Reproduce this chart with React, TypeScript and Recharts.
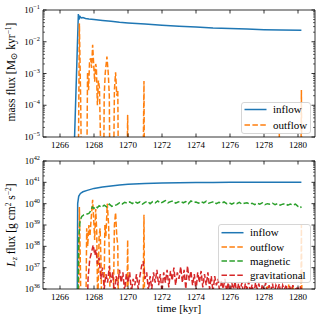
import React from 'react';
import { LineChart, Line, XAxis, YAxis, Legend } from 'recharts';

const FONT = '"Liberation Serif", "DejaVu Serif", "Times New Roman", serif';
const BLUE = '#1f77b4';
const ORANGE = '#ff7f0e';
const GREEN = '#2ca02c';
const RED = '#d62728';
const DASH = '5.5 2.4';

// ---------- tick labels ----------
const timeTicks = [1266, 1268, 1270, 1272, 1274, 1276, 1278, 1280];
const massDecades = [1e-5, 1e-4, 1e-3, 1e-2, 1e-1];
const lzDecades = [1e36, 1e37, 1e38, 1e39, 1e40, 1e41, 1e42];

// ---------- top panel: mass flux [Msun/kyr] ----------
const massInflowT = [1266.8, 1267.08, 1267.12, 1267.18, 1267.25, 1267.35, 1267.5, 1267.7, 1268, 1268.5, 1269, 1269.5, 1270, 1271, 1272, 1273, 1274, 1275, 1276, 1277, 1278, 1279, 1280.2];
const massInflowV = [1e-6, 0.075, 0.05, 0.062, 0.056, 0.058, 0.054, 0.052, 0.05, 0.047, 0.044, 0.041, 0.039, 0.036, 0.033, 0.031, 0.029, 0.027, 0.026, 0.025, 0.024, 0.0235, 0.023];

const massOutflowT = [1266.95, 1267.05, 1267.14, 1267.22, 1267.3, 1267.55, 1267.62, 1267.68, 1267.74, 1267.8, 1267.86, 1267.92, 1267.98, 1268.04, 1268.1, 1268.14, 1268.2, 1268.26, 1268.32, 1268.38, 1268.45, 1268.55, 1268.6, 1268.66, 1268.76, 1268.84, 1268.9, 1268.96, 1269.12, 1269.2, 1269.27, 1269.34, 1269.4, 1269.46, 1269.9, 1269.98, 1270.04, 1270.85, 1270.94, 1270.98, 1278.85, 1278.9, 1278.95, 1280.15, 1280.2, 1280.24];
const massOutflowV = [1e-8, 1e-8, 3.8e-2, 1e-4, 1e-8, 1e-8, 1.1e-3, 3e-4, 2.5e-3, 3e-3, 1.5e-3, 8e-3, 2e-3, 5.5e-4, 2e-3, 1.5e-3, 1e-4, 6e-4, 3.5e-4, 1e-5, 1e-8, 1e-8, 2e-4, 1e-3, 3.4e-3, 1e-3, 2e-4, 1e-8, 1e-8, 3e-4, 1.1e-3, 2e-4, 3e-4, 1e-8, 1e-8, 5e-5, 1e-8, 1e-8, 5.8e-4, 1e-8, 1e-8, 1.3e-5, 1e-8, 1e-8, 3e-4, 1e-8];

// ---------- bottom panel: Lz flux [g cm^2 s^-2] ----------
const lzInflowT = [1267.0, 1267.04, 1267.1, 1267.2, 1267.35, 1267.6, 1268, 1268.5, 1269, 1269.5, 1270, 1271, 1272, 1273, 1274, 1275, 1276, 1277.5, 1279, 1280.2];
const lzInflowV = [1e33, 1e40, 2.2e40, 3e40, 3.6e40, 4.2e40, 5.2e40, 6e40, 6.8e40, 7.5e40, 8.2e40, 8.8e40, 9.2e40, 9.5e40, 9.7e40, 9.9e40, 1e41, 1.02e41, 1.02e41, 1e41];

const lzOutflowT = [1267.0, 1267.08, 1267.14, 1267.2, 1267.26, 1267.5, 1267.57, 1267.63, 1267.7, 1267.76, 1267.85, 1267.92, 1267.98, 1268.04, 1268.1, 1268.16, 1268.22, 1268.3, 1268.36, 1268.42, 1268.48, 1268.58, 1268.64, 1268.7, 1268.78, 1268.86, 1268.92, 1268.98, 1269.12, 1269.2, 1269.27, 1269.34, 1269.4, 1269.46, 1269.9, 1269.98, 1270.04, 1270.86, 1270.94, 1270.99, 1278.1, 1278.2, 1278.3, 1279.3, 1279.45, 1279.55, 1279.7, 1279.85, 1280.15, 1280.2, 1280.25];
const lzOutflowV = [1e33, 1e33, 7e39, 1e37, 1e33, 1e33, 7e38, 1e38, 1e39, 3e38, 3e39, 1.5e40, 2e39, 2e38, 5.6e39, 5e38, 1e35, 3e38, 7e38, 1e37, 1e33, 1e35, 1e39, 3e38, 1e40, 1e39, 1e37, 1e33, 1e34, 1e39, 3.8e39, 3e38, 1e38, 1e33, 1e33, 2e38, 1e33, 1e33, 3e39, 1e33, 1e33, 1.5e36, 1e33, 1e33, 1.6e36, 5e35, 1.5e36, 1e33, 1e33, 1e39, 1e33];

const lzMagneticT = [1267.02, 1267.1, 1267.18, 1267.28, 1267.4, 1267.55, 1267.7, 1267.8, 1267.9, 1268.0, 1268.1, 1268.2, 1268.3, 1268.45, 1268.6, 1268.75, 1268.9, 1269.05, 1269.2, 1269.35, 1269.5, 1269.65, 1269.8, 1269.95, 1270.1, 1270.25, 1270.4, 1270.55, 1270.7, 1270.85, 1271, 1271.15, 1271.3, 1271.45, 1271.6, 1271.75, 1271.9, 1272.05, 1272.2, 1272.35, 1272.5, 1272.65, 1272.8, 1272.95, 1273.1, 1273.25, 1273.4, 1273.55, 1273.7, 1273.85, 1274, 1274.15, 1274.3, 1274.45, 1274.6, 1274.75, 1274.9, 1275.05, 1275.2, 1275.35, 1275.5, 1275.65, 1275.8, 1275.95, 1276.1, 1276.25, 1276.4, 1276.55, 1276.7, 1276.85, 1277, 1277.15, 1277.3, 1277.45, 1277.6, 1277.75, 1277.9, 1278.05, 1278.2, 1278.35, 1278.5, 1278.65, 1278.8, 1278.95, 1279.1, 1279.25, 1279.4, 1279.55, 1279.7, 1279.85, 1280, 1280.1, 1280.2];
const lzMagneticV = [1e33, 2e38, 1.6e39, 2.5e39, 3e39, 3.2e39, 3.5e39, 4.5e39, 7e39, 6e39, 7.5e39, 6.5e39, 8e39, 6.8e39, 8.5e39, 7e39, 9.5e39, 7.5e39, 8e39, 9e39, 1.1e40, 9.5e39, 1.15e40, 1.05e40, 1.2e40, 1e40, 1.25e40, 1.05e40, 1.2e40, 9.5e39, 1.15e40, 1.3e40, 1e40, 1.25e40, 1.1e40, 1.35e40, 1.05e40, 1.2e40, 1.4e40, 1.1e40, 1.25e40, 1.35e40, 1.05e40, 1.2e40, 1.3e40, 1.1e40, 1.25e40, 1e40, 1.35e40, 1.15e40, 1.2e40, 1.05e40, 1.25e40, 1.1e40, 1.3e40, 1.05e40, 1.15e40, 1.25e40, 1e40, 1.15e40, 1.05e40, 1.2e40, 1e40, 1.1e40, 9.5e39, 1.1e40, 1e40, 1.15e40, 9.5e39, 1.05e40, 1.1e40, 9.5e39, 1.05e40, 9e39, 1.05e40, 9.5e39, 1.1e40, 9e39, 1e40, 9.5e39, 1.05e40, 9e39, 1e40, 8.5e39, 9.5e39, 1e40, 8.5e39, 9.5e39, 8.5e39, 9.5e39, 7.5e39, 8e39, 6.5e39];

const lzGravT = [1267.55, 1267.65, 1267.75, 1267.85, 1267.95, 1268.05, 1268.12, 1268.2, 1268.3, 1268.4, 1268.5, 1268.6, 1268.7, 1268.8, 1268.9, 1269.0, 1269.1, 1269.2, 1269.3, 1269.4, 1269.5, 1269.6, 1269.7, 1269.8, 1269.9, 1270.0, 1270.1, 1270.2, 1270.3, 1270.4, 1270.5, 1270.6, 1270.7, 1270.8, 1270.9, 1271.0, 1271.1, 1271.2, 1271.3, 1271.4, 1271.5, 1271.6, 1271.7, 1271.8, 1271.9, 1272.0, 1272.1, 1272.2, 1272.3, 1272.4, 1272.5, 1272.6, 1272.7, 1272.8, 1272.9, 1273.0, 1273.1, 1273.2, 1273.3, 1273.4, 1273.5, 1273.6, 1273.7, 1273.8, 1273.9, 1274.0, 1274.1, 1274.2, 1274.3, 1274.4, 1274.5, 1274.6, 1274.7, 1274.8, 1274.9, 1275.0, 1275.1, 1275.2, 1275.3, 1275.4, 1275.5, 1275.6, 1275.7, 1275.8, 1275.9, 1276.0, 1276.1, 1276.2, 1276.3, 1276.4, 1276.5, 1276.6, 1276.7, 1276.8, 1276.9, 1277.0, 1277.1, 1277.2, 1277.3, 1277.4, 1277.5, 1277.6, 1277.7, 1277.8, 1277.9, 1278.0, 1278.1, 1278.2, 1278.3, 1278.4, 1278.5, 1278.6, 1278.7, 1278.8, 1278.9, 1279.0, 1279.1, 1279.2, 1279.3, 1279.4, 1279.5, 1279.6, 1279.7, 1279.8, 1279.9, 1280.0, 1280.1, 1280.2];
const lzGravV = [1e33, 3e36, 2.5e37, 5e37, 1.15e38, 4e37, 7e37, 1.5e37, 3e37, 3e36, 1e37, 1e36, 5e36, 2e36, 1.2e37, 2e36, 6e36, 5e35, 4e36, 1.5e36, 8e36, 2e36, 6e36, 8e35, 5e36, 2e36, 6e36, 7e35, 3e36, 1.5e36, 5e36, 1e36, 4e36, 1.2e37, 2e37, 3e36, 6e36, 8e35, 4e36, 1e36, 6e36, 2e36, 8e36, 1.5e36, 5e36, 7e35, 6e36, 2e36, 8e36, 1.2e36, 7e36, 2.5e36, 1e37, 1.5e36, 6e36, 3e36, 1.1e37, 2e36, 8e36, 1e36, 1.2e37, 2.5e36, 7e36, 1.5e36, 5e36, 8e35, 6e36, 2e36, 7e36, 1.2e36, 5e36, 1.5e36, 6e36, 1e36, 4e36, 7e35, 4e36, 1.5e36, 3e36, 6e35, 2.5e36, 1e36, 3e36, 8e35, 2e36, 5e35, 2e36, 1e36, 2.2e36, 6e35, 1.8e36, 9e35, 2e36, 5e35, 1.8e36, 1e36, 2.2e36, 7e35, 1.6e36, 5e35, 2e36, 1e36, 1.8e36, 6e35, 1.6e36, 9e35, 2e36, 5e35, 1.5e36, 8e35, 1.8e36, 6e35, 1.5e36, 1e36, 1.7e36, 5e35, 1.5e36, 9e35, 1.6e36, 6e35, 1.4e36, 8e35, 1.5e36, 5e35, 1.3e36, 9e35, 1.4e36, 1e36];

const pts = (t: number[], v: number[]) => t.map((x, i) => ({ t: x, v: v[i] }));

const withMinors = (decades: number[]) => {
  const out: number[] = [];
  decades.forEach((d, i) => {
    out.push(d);
    if (i < decades.length - 1) for (let k = 2; k <= 9; k++) out.push(d * k);
  });
  return out;
};
const massTicks = withMinors(massDecades);
const lzTicks = withMinors(lzDecades);

const isDecade = (v: number) => {
  const l = Math.log10(v);
  return Math.abs(l - Math.round(l)) < 1e-6;
};

const TXT = { fontFamily: FONT, fill: '#000' };

const LeftTick = (props: any) => {
  const { x, y, payload } = props;
  const v = payload.value;
  const major = isDecade(v);
  const e = Math.round(Math.log10(v));
  return (
    <g>
      <line x1={x} x2={x + (major ? 3.5 : 2)} y1={y} y2={y} stroke="#000" strokeWidth={major ? 0.8 : 0.6} />
      {major && (
        <text x={x - 3} y={y + 3} textAnchor="end" fontSize={9} {...TXT}>
          10<tspan dy={-4} fontSize={6.3}>{e < 0 ? '\u2212' + -e : String(e)}</tspan>
        </text>
      )}
    </g>
  );
};
const RightTick = (props: any) => {
  const { x, y, payload } = props;
  const major = isDecade(payload.value);
  return <line x1={x} x2={x - (major ? 3.5 : 2)} y1={y} y2={y} stroke="#000" strokeWidth={major ? 0.8 : 0.6} />;
};
const BottomTick = (props: any) => {
  const { x, y, payload } = props;
  return (
    <g>
      <line x1={x} x2={x} y1={y} y2={y - 3.5} stroke="#000" strokeWidth={0.8} />
      <text x={x} y={y + 11} textAnchor="middle" fontSize={9} {...TXT}>{payload.value}</text>
    </g>
  );
};
const TopTick = (props: any) => {
  const { x, y } = props;
  return <line x1={x} x2={x} y1={y} y2={y + 3.5} stroke="#000" strokeWidth={0.8} />;
};

type Entry = { name: string; color: string; dashed: boolean };
const topEntries: Entry[] = [
  { name: 'inflow', color: BLUE, dashed: false },
  { name: 'outflow', color: ORANGE, dashed: true },
];
const bottomEntries: Entry[] = [
  { name: 'inflow', color: BLUE, dashed: false },
  { name: 'outflow', color: ORANGE, dashed: true },
  { name: 'magnetic', color: GREEN, dashed: true },
  { name: 'gravitational', color: RED, dashed: true },
];

const LegendBox = ({ entries, w, h, rows }: { entries: Entry[]; w: number; h: number; rows: number[] }) => (
  <svg width={w} height={h} style={{ display: 'block' }}>
    <rect x={0.5} y={0.5} width={w - 1} height={h - 1} rx={2.5} fill="#fff" fillOpacity={0.8} stroke="#cccccc" strokeWidth={0.8} />
    {entries.map((e, i) => (
      <g key={e.name}>
        <line x1={3.5} x2={25.5} y1={rows[i]} y2={rows[i]} stroke={e.color} strokeWidth={1.5} strokeDasharray={e.dashed ? DASH : undefined} />
        <text x={32} y={rows[i] + 3.5} fontSize={11} {...TXT}>{e.name}</text>
      </g>
    ))}
  </svg>
);

const common = { dot: false, isAnimationActive: false, type: 'linear' as const, xAxisId: 'b', yAxisId: 'l', dataKey: 'v' };

export default function App() {
  return (
    <div style={{ position: 'absolute', left: 0, top: 0, width: 322, height: 322, background: '#fff' }}>
      <div style={{ position: 'absolute', left: 0, top: 0 }}>
        <LineChart width={322} height={161} margin={{ top: 0, right: 0, bottom: 0, left: 0 }}>
          <XAxis xAxisId="b" type="number" dataKey="t" domain={[1265, 1281]} allowDataOverflow ticks={timeTicks} interval={0}
            tickSize={0} tickMargin={0} tick={BottomTick} height={24} axisLine={{ stroke: '#000', strokeWidth: 0.8 }} tickLine={false} />
          <XAxis xAxisId="t" orientation="top" type="number" dataKey="t" domain={[1265, 1281]} allowDataOverflow ticks={timeTicks} interval={0}
            tickSize={0} tickMargin={0} tick={TopTick} height={10} axisLine={{ stroke: '#000', strokeWidth: 0.8 }} tickLine={false} />
          <YAxis yAxisId="l" type="number" scale="log" domain={[1e-5, 1e-1]} allowDataOverflow ticks={massTicks} interval={0}
            tickSize={0} tickMargin={0} tick={LeftTick} width={43} axisLine={{ stroke: '#000', strokeWidth: 0.8 }} tickLine={false}
            label={{
              content: () => (
                <text transform="translate(15,72) rotate(-90)" textAnchor="middle" fontSize={11.5} {...TXT}>
                  mass flux [M<tspan fontSize={9} dy={1.5}>{'\u2299'}</tspan><tspan dy={-1.5}> kyr</tspan><tspan dy={-4} fontSize={7.5}>{'\u22121'}</tspan><tspan dy={4}>]</tspan>
                </text>
              ),
            }} />
          <YAxis yAxisId="r" orientation="right" type="number" scale="log" domain={[1e-5, 1e-1]} allowDataOverflow ticks={massTicks} interval={0}
            tickSize={0} tickMargin={0} tick={RightTick} width={7} axisLine={{ stroke: '#000', strokeWidth: 0.8 }} tickLine={false} />
          <Line {...common} data={pts(massInflowT, massInflowV)} stroke={BLUE} strokeWidth={1.5} />
          <Line {...common} data={pts(massOutflowT, massOutflowV)} stroke={ORANGE} strokeWidth={1.5} strokeDasharray={DASH} />
          <Legend layout="vertical" align="center" verticalAlign="middle"
            wrapperStyle={{ position: 'absolute', left: 241, top: 102, width: 70, height: 32 }}
            content={() => <LegendBox entries={topEntries} w={70} h={32} rows={[7.5, 23]} />} />
        </LineChart>
      </div>
      <div style={{ position: 'absolute', left: 0, top: 150 }}>
        <LineChart width={322} height={172} margin={{ top: 0, right: 0, bottom: 0, left: 0 }}>
          <XAxis xAxisId="b" type="number" dataKey="t" domain={[1265, 1281]} allowDataOverflow ticks={timeTicks} interval={0}
            tickSize={0} tickMargin={0} tick={BottomTick} height={33} axisLine={{ stroke: '#000', strokeWidth: 0.8 }} tickLine={false}
            label={{
              content: () => (
                <text x={179} y={162} textAnchor="middle" fontSize={11} {...TXT}>time [kyr]</text>
              ),
            }} />
          <XAxis xAxisId="t" orientation="top" type="number" dataKey="t" domain={[1265, 1281]} allowDataOverflow ticks={timeTicks} interval={0}
            tickSize={0} tickMargin={0} tick={TopTick} height={11} axisLine={{ stroke: '#000', strokeWidth: 0.8 }} tickLine={false} />
          <YAxis yAxisId="l" type="number" scale="log" domain={[1e36, 1e42]} allowDataOverflow ticks={lzTicks} interval={0}
            tickSize={0} tickMargin={0} tick={LeftTick} width={43} axisLine={{ stroke: '#000', strokeWidth: 0.8 }} tickLine={false}
            label={{
              content: () => (
                <text transform="translate(15,75) rotate(-90)" textAnchor="middle" fontSize={11.5} {...TXT}>
                  <tspan fontStyle="italic">L</tspan><tspan dy={2} fontSize={8} fontStyle="italic">z</tspan><tspan dy={-2}> flux [g cm</tspan><tspan dy={-4} fontSize={7.5}>2</tspan><tspan dy={4}> s</tspan><tspan dy={-4} fontSize={7.5}>{'\u22122'}</tspan><tspan dy={4}>]</tspan>
                </text>
              ),
            }} />
          <YAxis yAxisId="r" orientation="right" type="number" scale="log" domain={[1e36, 1e42]} allowDataOverflow ticks={lzTicks} interval={0}
            tickSize={0} tickMargin={0} tick={RightTick} width={7} axisLine={{ stroke: '#000', strokeWidth: 0.8 }} tickLine={false} />
          <Line {...common} data={pts(lzInflowT, lzInflowV)} stroke={BLUE} strokeWidth={1.5} />
          <Line {...common} data={pts(lzOutflowT, lzOutflowV)} stroke={ORANGE} strokeWidth={1.5} strokeDasharray={DASH} />
          <Line {...common} data={pts(lzMagneticT, lzMagneticV)} stroke={GREEN} strokeWidth={1.5} strokeDasharray={DASH} />
          <Line {...common} data={pts(lzGravT, lzGravV)} stroke={RED} strokeWidth={1.5} strokeDasharray={DASH} />
          <Legend layout="vertical" align="center" verticalAlign="middle"
            wrapperStyle={{ position: 'absolute', left: 218, top: 74, width: 93, height: 59 }}
            content={() => <LegendBox entries={bottomEntries} w={93} h={59} rows={[8.7, 23, 37, 51.3]} />} />
        </LineChart>
      </div>
    </div>
  );
}
